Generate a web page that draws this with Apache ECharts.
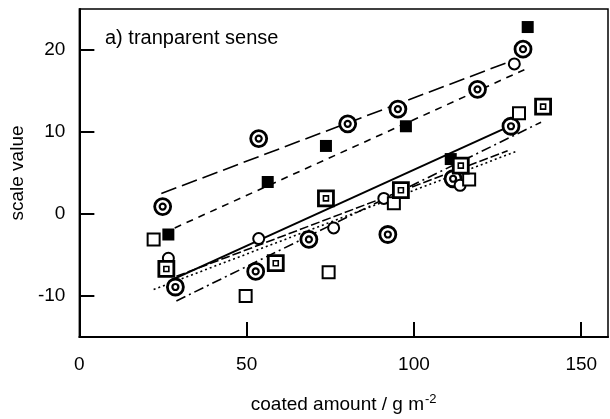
<!DOCTYPE html>
<html>
<head>
<meta charset="utf-8">
<script src="https://cdn.jsdelivr.net/npm/echarts@6/dist/echarts.min.js"></script>
<style>
  html, body { margin: 0; padding: 0; background: #fff; }
  #chart { width: 610px; height: 419px; }
</style>
</head>
<body>
<div id="chart"></div>
<script>
// tick labels
const xTicks = [0, 50, 100, 150];
const yTicks = [-10, 0, 10, 20];

// double circles, upper group
const dcUpX = [24.9, 53.6, 80.2, 95.2, 119, 132.6];
const dcUpY = [0.9, 9.2, 11.0, 12.8, 15.2, 20.1];
// double circles, lower group
const dcLoX = [28.7, 52.7, 68.6, 92.2, 111.7, 129];
const dcLoY = [-8.9, -7.0, -3.1, -2.5, 4.3, 10.7];
// filled squares
const fsX = [26.6, 56.3, 73.7, 97.6, 111, 134];
const fsY = [-2.5, 3.9, 8.3, 10.7, 6.7, 22.8];
// small open circles
const ocX = [26.6, 53.6, 76, 91, 113.8, 130];
const ocY = [-5.4, -3.0, -1.7, 1.9, 3.5, 18.3];
// open squares
const osX = [22.2, 49.7, 74.5, 94, 116.5, 131.4];
const osY = [-3.1, -10, -7.1, 1.3, 4.2, 12.3];
// squares with inner square
const dsX = [26, 58.7, 73.7, 96.1, 114, 138.6];
const dsY = [-6.7, -6.0, 1.9, 2.9, 5.9, 13.1];

// fitted lines (end points)
const fitLongDash  = [[24.5, 2.5], [130, 18.8]];
const fitShortDash = [[28.5, -1.7], [133, 17.6]];
const fitSolid     = [[27.8, -8.0], [128, 10.6]];
const fitDashDot   = [[29, -10.6], [138, 11.2]];
const fitMidDash   = [[29, -7.6], [128, 7.7]];
const fitDotted    = [[22.2, -9.2], [131, 7.7]];

const pts = (xs, ys) => xs.map((x, i) => [x, ys[i]]);

const font = '"Liberation Sans", Arial, sans-serif';

function lineSeries(data, type, width) {
  return {
    type: 'line', data, symbol: 'none', silent: true, z: 2,
    lineStyle: { color: '#000', width: width || 1.6, type }
  };
}
function markSeries(data, symbol, size, fill, bw, z) {
  return {
    type: 'scatter', data, symbol, symbolSize: size, z: z || 3,
    itemStyle: { color: fill, borderColor: '#000', borderWidth: bw, opacity: 1 }
  };
}

const chart = echarts.init(document.getElementById('chart'), null, { renderer: 'canvas' });
chart.setOption({
  animation: false,
  backgroundColor: '#fff',
  title: {
    text: 'a) tranparent sense', left: 100, top: 23,
    textStyle: { fontFamily: font, fontSize: 20, fontWeight: 'normal', color: '#000' }
  },
  grid: { left: 79, right: 2, top: 9, bottom: 80, show: true, borderColor: '#000', borderWidth: 1.5 },
  xAxis: {
    type: 'value', min: 0, max: 158,
    name: 'coated amount / {a|g m}{s|-2}', nameLocation: 'middle', nameGap: 56,
    nameTextStyle: {
      fontFamily: font, fontSize: 19, color: '#000',
      rich: { a: { fontFamily: font, fontSize: 19, color: '#000' }, s: { fontFamily: font, fontSize: 13, color: '#000', verticalAlign: 'top', padding: [0, 0, 10, 1] } }
    },
    axisLine: { onZero: false, lineStyle: { color: '#000', width: 2 } },
    axisTick: { inside: true, length: 15, lineStyle: { color: '#000', width: 2 }, customValues: xTicks },
    axisLabel: { fontFamily: font, fontSize: 19, color: '#000', margin: 18, customValues: xTicks },
    splitLine: { show: false }
  },
  yAxis: {
    type: 'value', min: -15, max: 25,
    name: 'scale value', nameLocation: 'middle', nameGap: 44,
    nameTextStyle: { fontFamily: font, fontSize: 19, color: '#000' },
    axisLine: { onZero: false, lineStyle: { color: '#000', width: 2 } },
    axisTick: { inside: true, length: 15, lineStyle: { color: '#000', width: 2 }, customValues: yTicks },
    axisLabel: { fontFamily: font, fontSize: 19, color: '#000', margin: 14, customValues: yTicks },
    splitLine: { show: false }
  },
  series: [
    lineSeries(fitLongDash, [16, 6]),
    lineSeries(fitShortDash, [7, 6]),
    lineSeries(fitSolid, 'solid', 2),
    lineSeries(fitDashDot, [10, 4, 2, 4]),
    lineSeries(fitMidDash, [9, 3]),
    lineSeries(fitDotted, [2, 3]),
    // double circles: outer ring + inner ring
    markSeries(pts(dcUpX, dcUpY), 'circle', 16, '#fff', 2.8),
    markSeries(pts(dcUpX, dcUpY), 'circle', 6, '#fff', 2.2, 4),
    markSeries(pts(dcLoX, dcLoY), 'circle', 16, '#fff', 2.8),
    markSeries(pts(dcLoX, dcLoY), 'circle', 6, '#fff', 2.2, 4),
    markSeries(pts(fsX, fsY), 'rect', 12, '#000', 0),
    markSeries(pts(ocX, ocY), 'circle', 11, '#fff', 2),
    markSeries(pts(osX, osY), 'rect', 12, '#fff', 2),
    // squares with an inner square
    markSeries(pts(dsX, dsY), 'rect', 15, '#fff', 2.8),
    markSeries(pts(dsX, dsY), 'rect', 5, '#fff', 1.6, 4)
  ]
});
</script>
</body>
</html>
